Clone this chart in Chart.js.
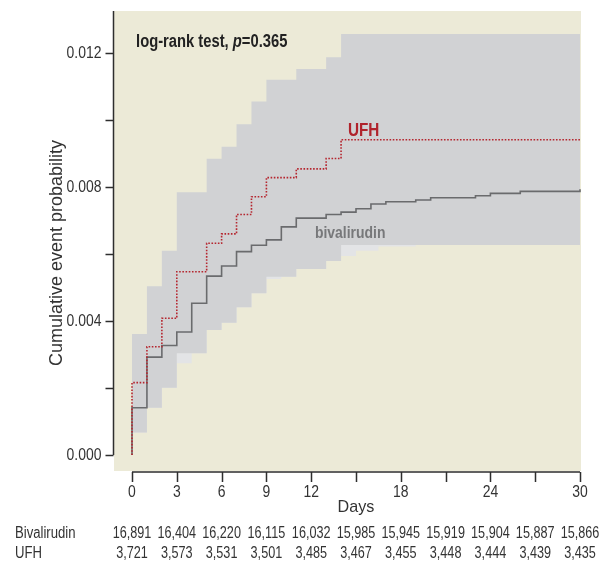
<!DOCTYPE html>
<html>
<head>
<meta charset="utf-8">
<script src="https://cdn.jsdelivr.net/npm/chart.js@4.4.1/dist/chart.umd.min.js"></script>
<style>
  html, body { margin: 0; padding: 0; background: #fff; }
  #wrap { width: 610px; height: 566px; }
</style>
</head>
<body>
<div id="wrap"><canvas id="kmChart" width="610" height="566"></canvas></div>
<script>
// Cumulative event curves, bivalirudin vs UFH (step curves + shaded CI)

const bivalDays = [0, 0, 1, 2, 3, 4, 5, 6, 7, 8, 9, 10, 11, 13, 14, 15, 16, 17, 19, 20, 23, 24, 26, 30];
const bivalRisk = [0, 0.00141, 0.00292, 0.00327, 0.00367, 0.00453, 0.00534, 0.00564, 0.00607, 0.00626, 0.00642,
  0.00681, 0.00707, 0.00718, 0.00725, 0.00735, 0.00749, 0.00756, 0.00761, 0.00768, 0.00774, 0.00781, 0.00787, 0.00793];

const ufhDays = [0, 0, 1, 2, 3, 5, 6, 7, 8, 9, 11, 13, 14, 30];
const ufhRisk = [0, 0.00216, 0.00323, 0.00408, 0.00547, 0.00632, 0.0066, 0.00718, 0.00771, 0.00828, 0.00854,
  0.00885, 0.00941, 0.00941];

// shaded band (dark grey part)
const bandDays = [0, 1, 2, 3, 5, 6, 7, 8, 9, 11, 13, 14, 30];
const bandUpper = [0.00361, 0.00504, 0.0061, 0.00784, 0.00884, 0.0092, 0.00987, 0.01055, 0.0112, 0.01152,
  0.01187, 0.01257, 0.01257];
const bandLower = [0.00067, 0.00141, 0.00201, 0.00304, 0.00373, 0.00395, 0.00441, 0.00483, 0.00532, 0.00555,
  0.00579, 0.00627, 0.00627];

// lighter grey patches under the band
const lightDays = [0, 1, 2, 3, 4, 5, 6, 7, 8, 9, 10, 11, 13, 14, 15, 16.5, 19, 30];
const lightLower = [0.00067, 0.00141, 0.00201, 0.00274, 0.00304, 0.00373, 0.00395, 0.00441, 0.00483, 0.00525,
  0.00532, 0.00555, 0.00579, 0.00594, 0.0061, 0.00622, 0.00627, 0.00627];

const xTickValues = [0, 3, 6, 9, 12, 18, 24, 30];
const yTickValues = [0, 0.004, 0.008, 0.012];

const tableDays = [0, 3, 6, 9, 12, 15, 18, 21, 24, 27, 30];
const bivalAtRisk = ['16,891', '16,404', '16,220', '16,115', '16,032', '15,985', '15,945', '15,919', '15,904', '15,887', '15,866'];
const ufhAtRisk = ['3,721', '3,573', '3,531', '3,501', '3,485', '3,467', '3,455', '3,448', '3,444', '3,439', '3,435'];

const BEIGE = '#ecead7';
const TEXT = '#333333';
const FONT = '"Liberation Sans", Arial, sans-serif';

function toPoints(xs, ys) {
  return xs.map((d, i) => ({ x: d, y: ys[i] }));
}

// no narrow font installed, so squeeze the text horizontally
function squeezeText(ctx, str, x, y, font, sx, align, baseline) {
  ctx.save();
  ctx.font = font;
  ctx.textAlign = align || 'left';
  ctx.textBaseline = baseline || 'alphabetic';
  ctx.translate(x, y);
  ctx.scale(sx, 1);
  ctx.fillText(str, 0, 0);
  const w = ctx.measureText(str).width * sx;
  ctx.restore();
  return w;
}

const decorPlugin = {
  id: 'kmDecor',
  beforeDraw(chart) {
    const { ctx, chartArea } = chart;
    ctx.save();
    ctx.fillStyle = BEIGE;
    ctx.fillRect(chartArea.left, chartArea.top, chartArea.right - chartArea.left, chartArea.bottom - chartArea.top);
    ctx.restore();
  },
  afterDraw(chart) {
    const { ctx, chartArea } = chart;
    const xs = chart.scales.x;
    const ys = chart.scales.y;
    ctx.save();
    ctx.strokeStyle = '#2e2e2e';
    ctx.lineWidth = 1.5;

    // y axis
    const yx = chartArea.left - 0.5;
    ctx.beginPath();
    ctx.moveTo(yx, chartArea.top);
    ctx.lineTo(yx, ys.getPixelForValue(0));
    for (let v = 0; v <= 0.0121; v += 0.002) {
      const py = Math.round(ys.getPixelForValue(v)) + 0.5;
      ctx.moveTo(yx - 8, py);
      ctx.lineTo(yx, py);
    }
    ctx.stroke();

    // x axis (sits just under the plot area)
    const xy = chartArea.bottom + 1;
    ctx.beginPath();
    ctx.moveTo(xs.getPixelForValue(0), xy);
    ctx.lineTo(xs.getPixelForValue(30), xy);
    for (let d = 0; d <= 30; d += 3) {
      const px = Math.round(xs.getPixelForValue(d)) + 0.5;
      ctx.moveTo(px, xy);
      ctx.lineTo(px, xy + 10);
    }
    ctx.stroke();

    // tick labels
    ctx.fillStyle = TEXT;
    ys.ticks.forEach(t => {
      squeezeText(ctx, t.value.toFixed(3), yx - 12, ys.getPixelForValue(t.value), '17px ' + FONT, 0.82, 'right', 'middle');
    });
    xs.ticks.forEach(t => {
      squeezeText(ctx, String(t.value), xs.getPixelForValue(t.value), xy + 20, '17px ' + FONT, 0.82, 'center', 'middle');
    });

    // log-rank annotation
    ctx.fillStyle = '#222';
    let tx = xs.getPixelForValue(0.27);
    const ty = ys.getPixelForValue(0.01218);
    tx += squeezeText(ctx, 'log-rank test, ', tx, ty, 'bold 18px ' + FONT, 0.82);
    tx += squeezeText(ctx, 'p', tx, ty, 'italic bold 18px ' + FONT, 0.82);
    squeezeText(ctx, '=0.365', tx, ty, 'bold 18px ' + FONT, 0.82);

    // series labels
    ctx.fillStyle = '#b0232c';
    squeezeText(ctx, 'UFH', xs.getPixelForValue(14.46), ys.getPixelForValue(0.009507), 'bold 18px ' + FONT, 0.85);
    ctx.fillStyle = '#77787a';
    squeezeText(ctx, 'bivalirudin', xs.getPixelForValue(12.25), ys.getPixelForValue(0.006478), 'bold 17px ' + FONT, 0.82);

    // axis titles
    ctx.fillStyle = TEXT;
    squeezeText(ctx, 'Days', xs.getPixelForValue(15), 507, '17px ' + FONT, 0.95, 'center', 'middle');
    ctx.save();
    ctx.translate(57, (chartArea.top + ys.getPixelForValue(0)) / 2 + 20);
    ctx.rotate(-Math.PI / 2);
    squeezeText(ctx, 'Cumulative event probability', 0, 0, '18px ' + FONT, 1, 'center', 'middle');
    ctx.restore();

    // numbers at risk
    squeezeText(ctx, 'Bivalirudin', 15, 534, '16px ' + FONT, 0.82, 'left', 'middle');
    squeezeText(ctx, 'UFH', 15, 554, '16px ' + FONT, 0.82, 'left', 'middle');
    tableDays.forEach((d, i) => {
      const px = xs.getPixelForValue(d);
      squeezeText(ctx, bivalAtRisk[i], px, 534, '16px ' + FONT, 0.79, 'center', 'middle');
      squeezeText(ctx, ufhAtRisk[i], px, 554, '16px ' + FONT, 0.79, 'center', 'middle');
    });
    ctx.restore();
  }
};

const stepLine = { stepped: true, pointRadius: 0, tension: 0 };

new Chart(document.getElementById('kmChart'), {
  type: 'line',
  data: {
    datasets: [
      {
        label: 'UFH',
        data: toPoints(ufhDays, ufhRisk),
        ...stepLine,
        borderColor: '#b5262f',
        borderWidth: 1.6,
        borderDash: [1.6, 1.6],
        fill: false,
        order: 1
      },
      {
        label: 'Bivalirudin',
        data: toPoints(bivalDays, bivalRisk),
        ...stepLine,
        borderColor: '#6a6b6d',
        borderWidth: 1.6,
        fill: false,
        order: 2
      },
      {
        label: 'band upper',
        data: toPoints(bandDays, bandUpper),
        ...stepLine,
        borderWidth: 0,
        borderColor: 'transparent',
        backgroundColor: BEIGE,
        fill: 'end',
        order: 3
      },
      {
        label: 'band lower',
        data: toPoints(bandDays, bandLower),
        ...stepLine,
        borderWidth: 0,
        borderColor: 'transparent',
        backgroundColor: '#d1d2d4',
        fill: 'end',
        order: 4
      },
      {
        label: 'band lower light',
        data: toPoints(lightDays, lightLower),
        ...stepLine,
        borderWidth: 0,
        borderColor: 'transparent',
        backgroundColor: '#e3e4e6',
        fill: 'end',
        order: 5
      }
    ]
  },
  options: {
    responsive: false,
    animation: false,
    layout: { padding: { top: 11, right: 29, left: 0, bottom: 0 } },
    plugins: {
      legend: { display: false },
      tooltip: { enabled: false }
    },
    scales: {
      x: {
        type: 'linear',
        min: -1.2054,
        max: 30.0669,
        grid: { display: false, drawTicks: false },
        border: { display: false },
        ticks: { display: false, autoSkip: false },
        afterBuildTicks: s => { s.ticks = xTickValues.map(v => ({ value: v })); },
        afterFit: s => { s.height = 95; }
      },
      y: {
        min: -0.0004776,
        max: 0.013253,
        grid: { display: false, drawTicks: false },
        border: { display: false },
        ticks: { display: false },
        afterBuildTicks: s => { s.ticks = yTickValues.map(v => ({ value: v })); },
        afterFit: s => { s.width = 114; }
      }
    }
  },
  plugins: [decorPlugin]
});
</script>
</body>
</html>
